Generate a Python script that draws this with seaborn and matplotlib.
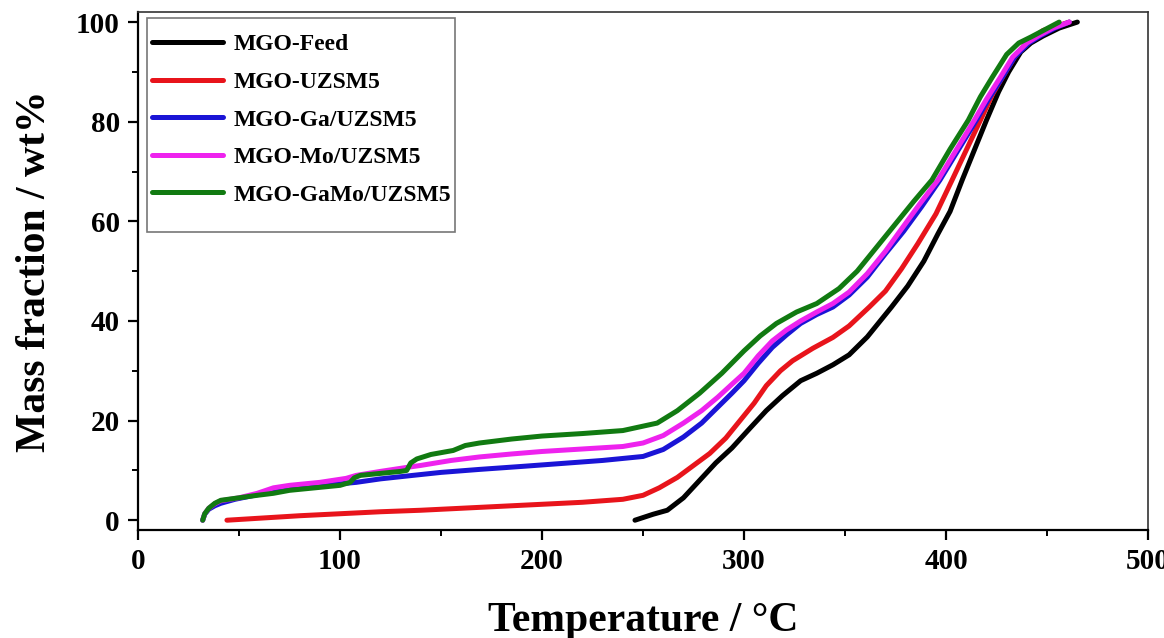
import numpy as np
import pandas as pd
import matplotlib
matplotlib.use("Agg")
import matplotlib.pyplot as plt
from matplotlib.patches import Rectangle
from matplotlib.ticker import MultipleLocator
import seaborn as sns

# Thermogravimetric mass fraction curves (temperature in °C, mass fraction in wt%)
feed_t = [246, 255, 262, 270, 278, 286, 294, 303, 311, 319, 328, 336, 344, 352, 361,
          373, 381, 389, 396, 402, 408, 414, 420, 426, 431, 437, 442, 448, 456, 465]
feed_m = [0, 1.2, 2, 4.5, 8, 11.5, 14.5, 18.5, 22, 25, 28, 29.5, 31.2, 33.2, 36.8,
          42.8, 47, 52, 57.5, 62, 68.3, 74.3, 80.3, 86, 90, 94, 95.8, 97.2, 98.8, 100]

uzsm5_t = [44, 60, 80, 100, 120, 140, 160, 180, 200, 220, 240, 250, 258, 267, 275, 283,
           291, 298, 305, 311, 318, 324, 334, 344, 352, 362, 370, 378, 386, 395, 403,
           410, 417, 423, 428, 434, 440, 448, 461]
uzsm5_m = [0, 0.4, 0.9, 1.3, 1.7, 2.0, 2.4, 2.8, 3.2, 3.6, 4.2, 5, 6.5, 8.6, 11, 13.4,
           16.5, 20, 23.5, 27, 30, 32, 34.5, 36.7, 39, 42.8, 46, 50.5, 55.5, 61.5, 68.3,
           74.3, 80.3, 85.5, 89, 93, 96, 98.3, 100]

ga_t = [32, 33, 35, 38, 41, 48, 60, 70, 85, 100, 108, 120, 136, 150, 169, 190, 210,
        230, 250, 260, 270, 279, 287, 294, 300, 307, 314, 321, 328, 336, 344, 352, 361,
        370, 379, 388, 397, 406, 415, 421, 428, 434, 441, 447, 454, 461]
ga_m = [0, 1.2, 2.2, 2.9, 3.4, 4.2, 5.2, 6, 6.7, 7.3, 7.6, 8.3, 9, 9.6, 10.2, 10.8, 11.4,
        12, 12.8, 14.2, 16.7, 19.5, 22.7, 25.5, 28, 31.5, 34.7, 37.2, 39.5, 41.3, 42.8,
        45.2, 48.8, 53.5, 58, 63, 68.3, 74.3, 80.3, 84.5, 89, 93, 95.8, 97.3, 98.8, 100]

mo_t = [32, 33, 35, 38, 41, 50, 59, 67, 75, 90, 103, 108, 120, 133, 140, 155, 169, 185,
        200, 220, 240, 250, 260, 270, 279, 287, 294, 300, 307, 314, 321, 328, 336, 344,
        352, 361, 370, 378, 387, 396, 405, 414, 420, 427, 433, 440, 446, 453, 461]
mo_m = [0, 1.3, 2.4, 3.3, 3.9, 4.5, 5.4, 6.5, 7, 7.6, 8.4, 9, 9.8, 10.6, 11, 12, 12.7,
        13.3, 13.8, 14.3, 14.8, 15.5, 17, 19.5, 22, 24.7, 27.3, 29.5, 33, 36, 38.2, 40,
        41.8, 43.5, 45.8, 49.5, 54, 58.5, 63.5, 68.3, 74.3, 80.3, 84.5, 89, 93, 95.8,
        97.3, 98.8, 100]

gamo_t = [32, 33, 35, 38, 41, 50, 59, 67, 75, 90, 100, 105, 107, 110, 120, 130, 133, 135,
          138, 145, 156, 162, 169, 185, 200, 220, 240, 257, 267, 278, 289, 300, 308, 316,
          326, 336, 347, 356, 365, 375, 384, 393, 402, 411, 417, 423, 430, 436, 442, 449,
          456]
gamo_m = [0, 1.3, 2.4, 3.4, 4.0, 4.5, 5, 5.4, 6, 6.6, 7, 7.6, 8.5, 9, 9.4, 9.8, 10, 11.5,
          12.3, 13.2, 14, 15, 15.5, 16.3, 16.9, 17.4, 18, 19.5, 22, 25.5, 29.5, 34, 37,
          39.5, 41.8, 43.5, 46.5, 50, 54.5, 59.5, 64, 68.3, 74.5, 80.3, 85, 89, 93.5,
          95.8, 97, 98.5, 100]

samples = ["MGO-Feed", "MGO-UZSM5", "MGO-Ga/UZSM5", "MGO-Mo/UZSM5", "MGO-GaMo/UZSM5"]
colors = ["#000000", "#e8141b", "#1a14d6", "#ee22ee", "#117a11"]
series = [(feed_t, feed_m), (uzsm5_t, uzsm5_m), (ga_t, ga_m), (mo_t, mo_m), (gamo_t, gamo_m)]

frames = []
for name, (t, m) in zip(samples, series):
    frames.append(pd.DataFrame({"Temperature": t, "Mass": m, "Sample": name}))
df = pd.concat(frames, ignore_index=True)

sns.set_style("ticks")
plt.rcParams["font.family"] = ["Liberation Serif", "DejaVu Serif"]
plt.rcParams["font.weight"] = "bold"
plt.rcParams["text.color"] = "black"
plt.rcParams["axes.labelcolor"] = "black"
plt.rcParams["xtick.color"] = "black"
plt.rcParams["ytick.color"] = "black"

fig = plt.figure(figsize=(11.64, 6.38), dpi=100)
ax = fig.add_axes([0.1186, 0.169, 0.8677, 0.812])

sns.lineplot(data=df, x="Temperature", y="Mass", hue="Sample", hue_order=samples,
             palette=dict(zip(samples, colors)), sort=False, estimator=None,
             linewidth=3.6, ax=ax)

ax.set_xlim(0, 500)
ax.set_ylim(-2, 102)
ax.xaxis.set_major_locator(MultipleLocator(100))
ax.xaxis.set_minor_locator(MultipleLocator(50))
ax.yaxis.set_major_locator(MultipleLocator(20))
ax.yaxis.set_minor_locator(MultipleLocator(10))
ax.tick_params(which="major", direction="out", length=7, width=1.6, labelsize=21, pad=6,
               colors="black")
ax.tick_params(which="minor", direction="out", length=4, width=1.4, colors="black")
for lbl in ax.get_xticklabels() + ax.get_yticklabels():
    lbl.set_fontweight("bold")

for side in ["left", "bottom"]:
    ax.spines[side].set_linewidth(1.6)
    ax.spines[side].set_color("black")
for side in ["top", "right"]:
    ax.spines[side].set_linewidth(1.2)
    ax.spines[side].set_color("#333333")

ax.set_xlabel("Temperature / °C", fontsize=30, fontweight="bold", labelpad=19)
ax.set_ylabel("Mass fraction / wt%", fontsize=30, fontweight="bold", labelpad=16)

# legend entries without their own frame; the box is drawn as a separate rectangle
leg = ax.legend(loc="upper left", bbox_to_anchor=(0.0139, 0.958), borderaxespad=0,
                borderpad=0, frameon=False, handlelength=3.0, labelspacing=0.68,
                handletextpad=0.45, prop={"weight": "bold", "size": 17})
for h in leg.get_lines():
    h.set_linewidth(3.6)
for txt in leg.get_texts():
    txt.set_color("black")

ax.add_patch(Rectangle((0.0089, 0.5753), 0.305, 0.4131, transform=ax.transAxes,
                       fill=True, facecolor="white", edgecolor="#777777",
                       linewidth=1.2, zorder=4.5))
leg.set_zorder(5)

fig.savefig("out.png", dpi=100)
